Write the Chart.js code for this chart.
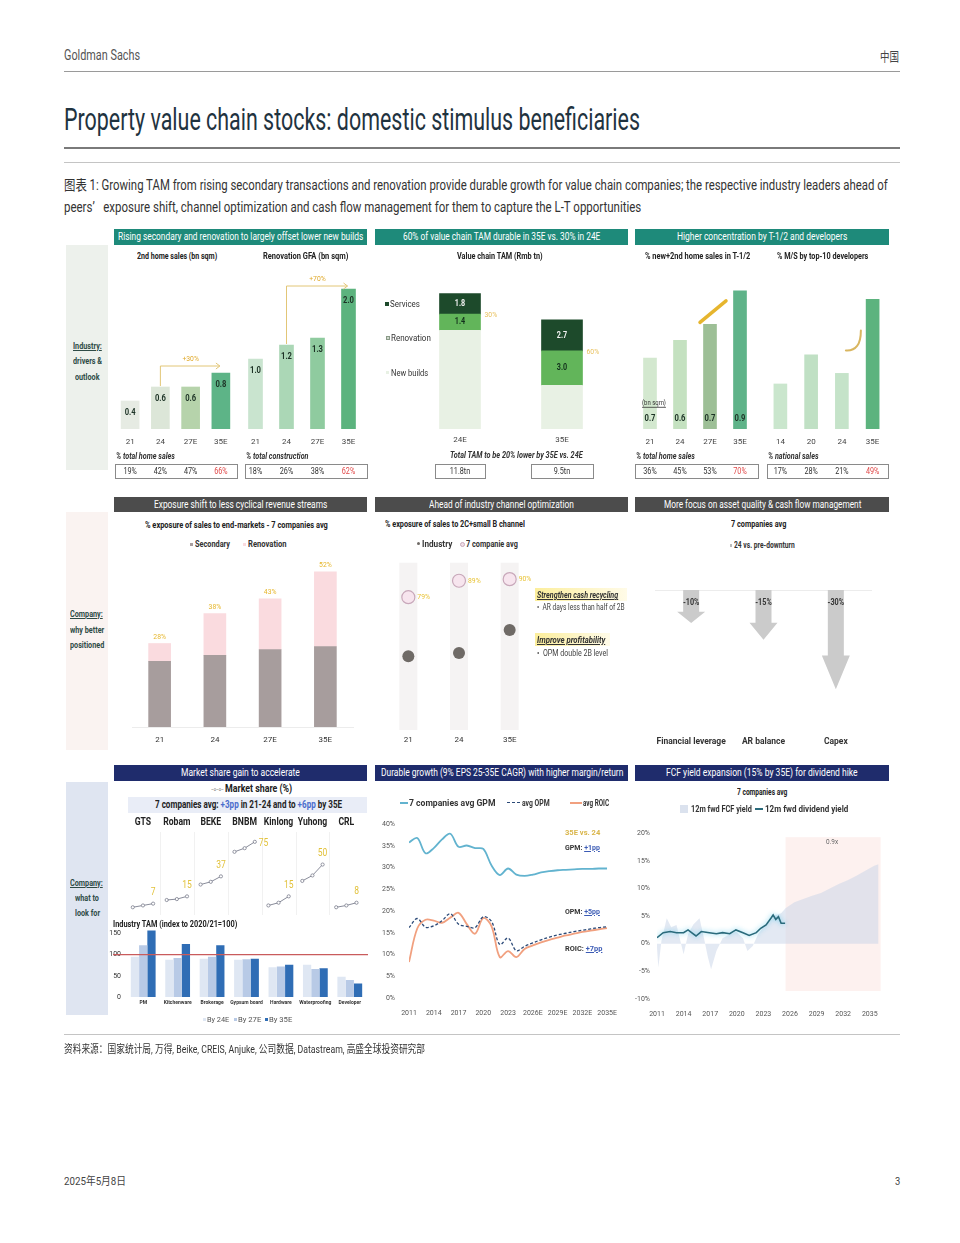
<!DOCTYPE html>
<html>
<head>
<meta charset="utf-8">
<script src="https://cdn.jsdelivr.net/npm/chart.js@4.4.1/dist/chart.umd.min.js"></script>
<style>
html, body { margin: 0; padding: 0; background: #fff; }
#page { position: relative; width: 960px; height: 1243px; overflow: hidden; background: #fff; font-family: Roboto, 'Noto Sans CJK SC', sans-serif; }
.t { position: absolute; white-space: nowrap; transform-origin: 0 50%; line-height: 1.15; }
.r { position: absolute; }
</style>
</head>
<body>
<div id="page"></div>
<script>
// ---- row 1: industry drivers ----
const years1 = ['21', '24', '27E', '35E'];
const homeSales2nd = [0.4, 0.6, 0.6, 0.8];
const homeSalesPct = ['19%', '42%', '47%', '66%'];
const renoGFA = [1.0, 1.2, 1.3, 2.0];
const renoPct = ['18%', '26%', '38%', '62%'];

const tamYears = ['24E', '35E'];
const tamNew = [8.6, 3.8];
const tamReno = [1.4, 3.0];
const tamServ = [1.8, 2.7];
const tamDurable = ['30%', '60%'];
const tamTotal = ['11.8tn', '9.5tn'];

const t12Pct = [36, 45, 53, 70];
const t12Area = [0.7, 0.6, 0.7, 0.9];
const devYears = ['14', '20', '24', '35E'];
const devPct = [17, 28, 21, 49];

// ---- row 2: company positioning ----
const expYears = ['21', '24', '27E', '35E'];
const expSecondary = [22, 24, 26, 27];
const expReno = [6, 14, 17, 25];
const expTotal = ['28%', '38%', '43%', '52%'];

const chYears = ['21', '24', '35E'];
const chIndustry = [43, 45, 59];
const chCompanies = [79, 89, 90];

const cfItems = ['Financial leverage', 'AR balance', 'Capex'];
const cfChange = [-10, -15, -30];

// ---- row 3: what to look for ----
const msNames = ['GTS', 'Robam', 'BEKE', 'BNBM', 'Kinlong', 'Yuhong', 'CRL'];
const msShare = [[3, 5, 7], [11, 12, 15], [28, 31, 37], [64, 68, 75], [5, 8, 15], [32, 38, 50], [3, 5, 8]];

const tamSeg = ['PM', 'Kitchenware', 'Brokerage', 'Gypsum board', 'Hardware', 'Waterproofing', 'Developer'];
const tam24E = [95, 88, 90, 88, 70, 76, 48];
const tam27E = [122, 92, 95, 89, 72, 66, 40];
const tam35E = [157, 125, 122, 90, 76, 68, 32];
const tamTicks = [0, 50, 100, 150];

const mYears = [2011, 2012, 2013, 2014, 2015, 2016, 2017, 2018, 2019, 2020, 2021, 2022, 2023, 2024, 2025, 2026, 2027, 2028, 2029, 2030, 2031, 2032, 2033, 2034, 2035];
const gpm = [35.8, 36.8, 33.3, 34.5, 36.5, 37.8, 34.8, 35.1, 34.5, 34.3, 30.5, 28.3, 29.8, 28.4, 28.1, 28.4, 28.9, 29.2, 29.4, 29.5, 29.6, 29.7, 29.7, 29.8, 29.8];
const opm = [16.2, 18.3, 16.3, 16.6, 17.8, 19.4, 17.0, 16.5, 16.2, 18.7, 17.6, 12.3, 13.8, 10.9, 11.9, 12.7, 13.4, 14.0, 14.5, 14.9, 15.3, 15.6, 15.9, 16.2, 16.4];
const roic = [8.3, 16.0, 18.0, 17.8, 17.3, 18.5, 19.6, 17.0, 14.8, 18.4, 16.5, 9.4, 10.8, 9.4, 11.3, 12.1, 12.8, 13.4, 13.9, 14.4, 14.8, 15.2, 15.5, 15.8, 16.1];
const marginXTicks = [2011, 2014, 2017, 2020, 2023, 2026, 2029, 2032, 2035];
const marginXLabels = ['2011', '2014', '2017', '2020', '2023', '2026E', '2029E', '2032E', '2035E'];
const marginYTicks = [0, 5, 10, 15, 20, 25, 30, 35, 40];

const fcfX = [2011.0, 2011.15, 2011.5, 2012.1, 2012.6, 2013.2, 2014.0, 2014.5, 2015.1, 2015.8, 2016.3, 2016.75, 2017.1, 2017.7, 2018.4, 2019.2, 2019.9, 2020.7, 2021.2, 2021.8, 2022.4, 2022.9, 2023.7, 2024.4, 2025.0, 2025.5, 2026.5, 2027.5, 2028.5, 2029.5, 2030.5, 2031.5, 2032.5, 2033.5, 2034.5, 2035.5, 2036];
const fcfY = [-0.7, -4.3, 0.5, 4.6, 3.0, 3.4, -1.9, 1.7, 3.5, 4.6, 1.0, -2.5, -4.6, -1.3, 1.0, 1.7, 2.2, 1.0, -1.3, -0.4, 1.7, 2.8, 4.0, 5.2, 5.5, 6.4, 7.5, 8.1, 8.7, 9.2, 10.0, 10.8, 11.5, 12.3, 13.2, 14.1, 14.4];
const divX = [2011.0, 2011.7, 2012.5, 2013.2, 2014.0, 2014.5, 2014.9, 2015.4, 2016.0, 2016.9, 2017.7, 2018.4, 2019.2, 2019.9, 2020.7, 2021.4, 2022.2, 2022.7, 2023.3, 2023.85, 2024.1, 2024.4, 2024.7, 2025.0, 2025.45];
const divY = [1.1, 2.0, 2.2, 2.0, 2.0, 2.5, 2.0, 1.4, 2.2, 2.0, 1.8, 2.0, 1.8, 2.5, 2.0, 1.5, 2.0, 2.8, 3.4, 4.6, 5.2, 4.4, 4.9, 3.7, 3.7];
const fcfXTicks = [2011, 2014, 2017, 2020, 2023, 2026, 2029, 2032, 2035];
const fcfYTicks = [-10, -5, 0, 5, 10, 15, 20];
const forecastStart = 2025.5;

const page = document.getElementById('page');
Chart.defaults.font.family = "Roboto, 'Noto Sans', sans-serif";

function T(html, x, y, size, w, css, align) {
    const d = document.createElement('div');
    d.className = 't';
    d.innerHTML = html;
    d.style.fontSize = size + 'px';
    if (css) Object.assign(d.style, css);
    page.appendChild(d);
    const nw = d.offsetWidth, nh = d.offsetHeight;
    const s = w ? w / nw : 0.85;
    const rw = nw * s;
    const left = align === 'c' ? x - rw / 2 : (align === 'r' ? x - rw : x);
    d.style.left = left + 'px';
    d.style.top = (y - nh / 2) + 'px';
    d.style.transform = 'scaleX(' + s + ')';
    return d;
}

function R(x, y, w, h, css) {
    const d = document.createElement('div');
    d.className = 'r';
    d.style.left = x + 'px'; d.style.top = y + 'px';
    d.style.width = w + 'px'; d.style.height = h + 'px';
    Object.assign(d.style, css || {});
    page.appendChild(d);
    return d;
}

function hdr(x0, x1, y0, y1, bg, text, tw) {
    R(x0, y0, x1 - x0, y1 - y0, { background: bg });
    T(text, (x0 + x1) / 2, (y0 + y1) / 2, 10, tw, { color: '#fff' }, 'c');
}

function mk(x, y, w, h, cfg) {
    const d = document.createElement('div');
    d.style.cssText = 'position:absolute;left:' + x + 'px;top:' + y + 'px;width:' + w + 'px;height:' + h + 'px;';
    const c = document.createElement('canvas');
    d.appendChild(c);
    page.appendChild(d);
    const o = cfg.options || {};
    o.responsive = true;
    o.maintainAspectRatio = false;
    o.animation = false;
    o.plugins = Object.assign({ legend: { display: false }, tooltip: { enabled: false } }, o.plugins || {});
    cfg.options = o;
    return new Chart(c, cfg);
}

let pid = 0;
function P(hooks) { return Object.assign({ id: 'p' + (pid++) }, hooks); }

// condensed canvas text
function txt(ctx, s, x, y, o) {
    o = o || {};
    const size = o.size || 8;
    ctx.save();
    ctx.font = (o.style || 'normal') + ' ' + (o.weight || 'bold') + ' ' + size + 'px Roboto';
    ctx.fillStyle = o.color || '#333';
    ctx.textAlign = o.align || 'center';
    ctx.textBaseline = 'middle';
    ctx.translate(x, y);
    ctx.scale(o.sx || 0.85, 1);
    ctx.fillText(s, 0, 0);
    if (o.underline) {
        const w = ctx.measureText(s).width;
        const x0 = o.align === 'left' ? 0 : (o.align === 'right' ? -w : -w / 2);
        ctx.fillRect(x0, size * 0.55, w, 0.8);
    }
    ctx.restore();
}

const noGrid = { display: false, drawTicks: false };

// category x axis; its box is tall enough to hold padding + label (labels are clipped to it)
function xCat(pad, size, color, weight) {
    return {
        grid: noGrid, border: { display: false },
        ticks: { padding: pad, font: { size: size, weight: weight || 'normal' }, color: color || '#444', autoSkip: false, maxRotation: 0 },
        afterFit: s => { s.height = Math.ceil(pad + size * 1.2 + 2); }
    };
}

function inLabels(ds, texts, pos, o) {
    return P({
        afterDatasetsDraw(chart) {
            chart.getDatasetMeta(ds).data.forEach((b, i) => {
                let y = b.y + 12;
                if (pos === 'mid') y = (b.y + b.base) / 2;
                if (pos === 'bottom') y = b.base - 10;
                if (pos === 'above') y = b.y - 7;
                txt(chart.ctx, texts[i], b.x, y, o);
            });
        }
    });
}

function tableRow(title, vals, l, r) {
    return P({
        afterDraw(chart) {
            const a = chart.chartArea, ctx = chart.ctx;
            const y0 = a.bottom + 35;
            txt(ctx, title, a.left + l + 1, a.bottom + 28, { align: 'left', style: 'italic', size: 9, color: '#333', sx: 0.8 });
            ctx.save();
            ctx.strokeStyle = '#8a8a8a'; ctx.lineWidth = 1;
            ctx.strokeRect(a.left + l + 0.5, y0 + 0.5, a.right - a.left - l + r, 14);
            ctx.restore();
            chart.getDatasetMeta(0).data.forEach((b, i) => {
                txt(ctx, vals[i], b.x, y0 + 7.5, { size: 8.5, weight: 'normal', color: i === vals.length - 1 ? '#e04848' : '#333' });
            });
        }
    });
}

function bracket(from, to, label, dy) {
    return P({
        afterDatasetsDraw(chart) {
            const m = chart.getDatasetMeta(0).data, a = m[from], b = m[to], ctx = chart.ctx;
            const ly = b.y - dy;
            ctx.save();
            ctx.strokeStyle = '#e2c677'; ctx.lineWidth = 1;
            ctx.beginPath();
            ctx.moveTo(a.x, a.y - 1); ctx.lineTo(a.x, ly); ctx.lineTo(b.x - 1, ly);
            ctx.moveTo(b.x - 5, ly - 3); ctx.lineTo(b.x - 1, ly); ctx.lineTo(b.x - 5, ly + 3);
            ctx.stroke();
            ctx.restore();
            txt(ctx, label, (a.x + b.x) / 2, ly - 7, { size: 8, weight: 'normal', color: '#e0aa2c' });
        }
    });
}

// ---------- backgrounds ----------
R(64, 71, 836, 1, { background: '#9a9a9a' });
R(64, 147, 836, 2, { background: '#7a7a7a' });
R(64, 162, 836, 1, { background: '#c4c4c4' });
R(64, 1034, 836, 1, { background: '#c4c4c4' });

R(66, 245, 42, 225, { background: '#edf1ec' });
R(66, 512, 42, 238, { background: '#faf3f1' });
R(66, 782, 42, 233, { background: '#dfe5f1' });

hdr(114, 367, 229, 245, '#1e8a7a', 'Rising secondary and renovation to largely offset lower new builds', 245);
hdr(375, 628, 229, 245, '#1e8a7a', '60% of value chain TAM durable in 35E vs. 30% in 24E', 197);
hdr(635, 889, 229, 245, '#1e8a7a', 'Higher concentration by T-1/2 and developers', 170);
hdr(114, 367, 497, 512, '#4c4c4c', 'Exposure shift to less cyclical revenue streams', 173);
hdr(375, 628, 497, 512, '#4c4c4c', 'Ahead of industry channel optimization', 145);
hdr(635, 889, 497, 512, '#4c4c4c', 'More focus on asset quality &amp; cash flow management', 197);
hdr(114, 367, 765, 781, '#1f2c6c', 'Market share gain to accelerate', 119);
hdr(375, 628, 765, 781, '#1f2c6c', 'Durable growth (9% EPS 25-35E CAGR) with higher margin/return', 242);
hdr(635, 889, 765, 781, '#1f2c6c', 'FCF yield expansion (15% by 35E) for dividend hike', 192);

R(128, 797, 239, 16, { background: '#e9edf7' });
R(535, 588, 92, 13, { background: 'linear-gradient(90deg,#fcee9c,#fffbe8)' });
R(535, 633, 75, 13, { background: 'linear-gradient(90deg,#fcee9c,#fffbe8)' });

// ---------- row 1 charts ----------
mk(114, 262, 127, 222, {
    type: 'bar',
    data: { labels: years1, datasets: [{ data: homeSales2nd, backgroundColor: ['#e6ebe3', '#dce6d8', '#b6d3ab', '#5db487'], barThickness: 18 }] },
    options: {
        layout: { padding: { left: 1, right: 5, top: 20, bottom: 35 } },
        scales: { x: xCat(8, 8, '#444'), y: { display: false, min: 0, max: 2.1 } }
    },
    plugins: [
        inLabels(0, homeSales2nd.map(v => v.toFixed(1)), 'top', { size: 9, color: '#1d3326' }),
        bracket(1, 3, '+30%', 7),
        tableRow('% total home sales', homeSalesPct, 0, 1)
    ]
});

mk(238, 262, 130, 222, {
    type: 'bar',
    data: { labels: years1, datasets: [{ data: renoGFA, backgroundColor: ['#c9e4cf', '#abd7b6', '#8fcb9f', '#5cb37e'], barThickness: 14 }] },
    options: {
        layout: { padding: { left: 2, right: 4, top: 20, bottom: 35 } },
        scales: { x: xCat(8, 8, '#444'), y: { display: false, min: 0, max: 2.1 } }
    },
    plugins: [
        inLabels(0, renoGFA.map(v => v.toFixed(1)), 'top', { size: 9, color: '#1d3326' }),
        bracket(1, 3, '+70%', 3),
        tableRow('% total construction', renoPct, 5, 3)
    ]
});

mk(375, 262, 253, 222, {
    type: 'bar',
    data: {
        labels: tamYears, datasets: [
            { label: 'New builds', data: tamNew, backgroundColor: '#e8f1e4', barThickness: 41 },
            { label: 'Renovation', data: tamReno, backgroundColor: '#62b55a', barThickness: 41 },
            { label: 'Services', data: tamServ, backgroundColor: '#1d4a2b', barThickness: 41 }
        ]
    },
    options: {
        layout: { padding: { left: 34, right: 15, top: 20, bottom: 37 } },
        scales: { x: Object.assign(xCat(6, 8, '#444'), { stacked: true }), y: { stacked: true, display: false, min: 0, max: 12.8 } }
    },
    plugins: [
        inLabels(1, tamReno.map(v => v.toFixed(1)), 'mid', { size: 8.5, color: '#12301c' }),
        inLabels(2, tamServ.map(v => v.toFixed(1)), 'mid', { size: 8.5, color: '#f2f2f2' }),
        P({
            afterDatasetsDraw(chart) {
                const ctx = chart.ctx, a = chart.chartArea;
                chart.getDatasetMeta(1).data.forEach((b, i) => {
                    txt(ctx, tamDurable[i], b.x + b.width / 2 + 4, b.y + 1, { align: 'left', size: 8, weight: 'normal', color: '#e8c15e' });
                });
                const widths = [50, 62];
                chart.getDatasetMeta(0).data.forEach((b, i) => {
                    const y0 = a.bottom + 35;
                    ctx.save(); ctx.strokeStyle = '#8a8a8a'; ctx.lineWidth = 1;
                    ctx.strokeRect(Math.round(b.x - widths[i] / 2) + 0.5, y0 + 0.5, widths[i], 14);
                    ctx.restore();
                    txt(ctx, tamTotal[i], b.x, y0 + 7.5, { size: 8.5, weight: 'normal' });
                });
            }
        })
    ]
});

mk(632, 262, 128, 222, {
    type: 'bar',
    data: { labels: years1, datasets: [{ data: t12Pct, backgroundColor: ['#d3e8cf', '#c4e1c0', '#9dbf96', '#5fb389'], barThickness: 13 }] },
    options: {
        layout: { padding: { left: 3, right: 5, top: 20, bottom: 35 } },
        scales: { x: xCat(8, 8, '#444'), y: { display: false, min: 0, max: 74.5 } }
    },
    plugins: [
        inLabels(0, t12Area.map(v => v.toFixed(1)), 'bottom', { size: 9, color: '#1d3326' }),
        P({
            afterDatasetsDraw(chart) {
                const m = chart.getDatasetMeta(0).data, ctx = chart.ctx;
                txt(ctx, '(bn sqm)', m[0].x + 4, m[0].base - 26, { size: 7, weight: 'normal', color: '#333', underline: true });
                ctx.save();
                ctx.strokeStyle = '#e6b52e'; ctx.lineWidth = 3.5; ctx.lineCap = 'round';
                ctx.beginPath();
                ctx.moveTo(m[2].x - 10, m[2].y - 2);
                ctx.lineTo(m[3].x - 14, m[3].y + 10);
                ctx.stroke();
                ctx.restore();
            }
        }),
        tableRow('% total home sales', t12Pct.map(v => v + '%'), 0, 3)
    ]
});

mk(760, 262, 130, 222, {
    type: 'bar',
    data: { labels: devYears, datasets: [{ data: devPct, backgroundColor: ['#cae6cd', '#c0e0c4', '#c5e3c9', '#5cb37e'], barThickness: 13 }] },
    options: {
        layout: { padding: { left: 5, right: 2, top: 20, bottom: 35 } },
        scales: { x: xCat(8, 8, '#444'), y: { display: false, min: 0, max: 55.5 } }
    },
    plugins: [
        P({
            afterDatasetsDraw(chart) {
                const b = chart.getDatasetMeta(0).data[2], ctx = chart.ctx;
                ctx.save();
                ctx.strokeStyle = '#d9b660'; ctx.lineWidth = 2; ctx.lineCap = 'round';
                ctx.beginPath();
                ctx.moveTo(b.x + 19, b.y - 43);
                ctx.quadraticCurveTo(b.x + 19, b.y - 22, b.x + 4, b.y - 23);
                ctx.stroke();
                ctx.restore();
            }
        }),
        tableRow('% national sales', devPct.map(v => v + '%'), 2, 0)
    ]
});

// ---------- row 2 charts ----------
mk(114, 555, 254, 195, {
    type: 'bar',
    data: {
        labels: expYears, datasets: [
            { label: 'Secondary', data: expSecondary, backgroundColor: '#a79d9d', barThickness: 22 },
            { label: 'Renovation', data: expReno, backgroundColor: '#fadbdf', barThickness: 22 }
        ]
    },
    options: {
        layout: { padding: { left: 18, right: 15, top: 5, bottom: 3 } },
        scales: {
            x: Object.assign(xCat(8, 8, '#333'), { stacked: true, border: { display: true, color: '#ececec' } }),
            y: { stacked: true, display: false, min: 0, max: 56 }
        }
    },
    plugins: [inLabels(1, expTotal, 'above', { size: 8, weight: 'normal', color: '#e6b62a' })]
});

mk(375, 555, 253, 195, {
    type: 'line',
    data: {
        labels: chYears, datasets: [
            { label: 'Industry', data: chIndustry, showLine: false, pointRadius: 6, pointBackgroundColor: '#6f6a66', pointBorderWidth: 0 },
            { label: '7 companie avg', data: chCompanies, showLine: false, pointRadius: 6.5, pointBackgroundColor: '#f7e5ee', pointBorderColor: '#c8a8ba', pointBorderWidth: 1.2 }
        ]
    },
    options: {
        layout: { padding: { left: 8, right: 93, top: 3, bottom: 3 } },
        scales: { x: Object.assign(xCat(8, 8, '#333'), { offset: true }), y: { display: false, min: 0, max: 100 } }
    },
    plugins: [P({
        beforeDatasetsDraw(chart) {
            const a = chart.chartArea, sx = chart.scales.x, ctx = chart.ctx;
            ctx.save(); ctx.fillStyle = '#f5f3f3';
            chYears.forEach((_, i) => { const x = sx.getPixelForValue(i); ctx.fillRect(x - 9, a.top, 18, a.bottom - a.top + 3); });
            ctx.restore();
        },
        afterDatasetsDraw(chart) {
            chart.getDatasetMeta(1).data.forEach((p, i) => {
                txt(chart.ctx, chCompanies[i] + '%', p.x + 9, p.y, { align: 'left', size: 8, weight: 'normal', color: '#e8c233' });
            });
        }
    })]
});

mk(635, 570, 254, 180, {
    type: 'bar',
    data: { labels: cfItems, datasets: [{ data: cfChange, backgroundColor: 'rgba(0,0,0,0)', barThickness: 28 }] },
    options: {
        layout: { padding: { left: 20, right: 17, top: 20, bottom: 0 } },
        scales: { x: xCat(8, 8.5, '#333', 'bold'), y: { display: false, min: -42, max: 0 } }
    },
    plugins: [P({
        afterDatasetsDraw(chart) {
            const ctx = chart.ctx, a = chart.chartArea, y0 = chart.scales.y.getPixelForValue(0);
            ctx.save();
            ctx.strokeStyle = '#ececec'; ctx.lineWidth = 1;
            ctx.beginPath(); ctx.moveTo(a.left, y0 + 0.5); ctx.lineTo(a.right, y0 + 0.5); ctx.stroke();
            ctx.fillStyle = '#cbcbcb';
            chart.getDatasetMeta(0).data.forEach(b => {
                const top = b.base, tip = b.y, head = (tip - top) * 0.34;
                ctx.beginPath();
                ctx.moveTo(b.x - 8, top); ctx.lineTo(b.x - 8, tip - head); ctx.lineTo(b.x - 14, tip - head);
                ctx.lineTo(b.x, tip); ctx.lineTo(b.x + 14, tip - head); ctx.lineTo(b.x + 8, tip - head);
                ctx.lineTo(b.x + 8, top); ctx.closePath(); ctx.fill();
            });
            ctx.restore();
            chart.getDatasetMeta(0).data.forEach((b, i) => txt(ctx, cfChange[i] + '%', b.x, b.base + 13, { size: 8.5 }));
        }
    })]
});

// ---------- row 3 charts ----------
mk(114, 815, 254, 105, {
    type: 'scatter',
    data: {
        datasets: msShare.map((arr, i) => ({
            label: msNames[i],
            data: arr.map((v, j) => ({ x: i + (j - 1) * 0.3, y: v })),
            showLine: true, borderColor: '#6b6f80', borderWidth: 0.8,
            pointRadius: 1.6, pointBackgroundColor: '#fff', pointBorderColor: '#6b6f80', pointBorderWidth: 0.7
        }))
    },
    options: {
        layout: { padding: { left: 12, right: 0, top: 15, bottom: 5 } },
        scales: { x: { display: false, min: -0.5, max: 6.5 }, y: { display: false, min: -5.5, max: 88 } }
    },
    plugins: [P({
        beforeDatasetsDraw(chart) {
            const a = chart.chartArea, sx = chart.scales.x, ctx = chart.ctx;
            ctx.save(); ctx.strokeStyle = '#f1f1f1'; ctx.lineWidth = 1;
            for (let i = 0; i < msNames.length - 1; i++) {
                const x = Math.round(sx.getPixelForValue(i + 0.5)) + 0.5;
                ctx.beginPath(); ctx.moveTo(x, a.top + 2); ctx.lineTo(x, a.bottom); ctx.stroke();
            }
            ctx.restore();
            msNames.forEach((n, i) => txt(ctx, n, sx.getPixelForValue(i), a.top - 8, { size: 10.5, color: '#222', sx: 0.82 }));
        },
        afterDatasetsDraw(chart) {
            const a = chart.chartArea;
            msShare.forEach((arr, i) => {
                const p = chart.getDatasetMeta(i).data[arr.length - 1];
                const s = String(arr[arr.length - 1]);
                // labels sit above the last point, or to its right when too close to the names row
                if (p.y - 11 < a.top + 10) txt(chart.ctx, s, p.x + 4, p.y + 2, { align: 'left', size: 10, weight: 'normal', color: '#e2c23c' });
                else txt(chart.ctx, s, p.x, p.y - 11, { size: 10, weight: 'normal', color: '#e2c23c' });
            });
        }
    })]
});

mk(108, 920, 260, 105, {
    type: 'bar',
    data: {
        labels: tamSeg, datasets: [
            { label: 'By 24E', data: tam24E, backgroundColor: '#dfe7f3', categoryPercentage: 0.72, barPercentage: 1 },
            { label: 'By 27E', data: tam27E, backgroundColor: '#b8cae6', categoryPercentage: 0.72, barPercentage: 1 },
            { label: 'By 35E', data: tam35E, backgroundColor: '#2f6db5', categoryPercentage: 0.72, barPercentage: 1 }
        ]
    },
    options: {
        layout: { padding: { left: 0, right: 1, top: 9, bottom: 17 } },
        scales: {
            x: xCat(3, 5, '#333', 'bold'),
            y: {
                min: 0, max: 160, grid: noGrid, border: { display: false },
                afterBuildTicks: s => { s.ticks = tamTicks.map(v => ({ value: v })); },
                ticks: { padding: 5, font: { size: 7 }, color: '#333' },
                afterFit: s => { s.width = 18; }
            }
        }
    },
    plugins: [P({
        afterDatasetsDraw(chart) {
            const a = chart.chartArea, y = chart.scales.y.getPixelForValue(100), ctx = chart.ctx;
            ctx.save(); ctx.strokeStyle = '#c95b5c'; ctx.lineWidth = 1.2;
            ctx.beginPath(); ctx.moveTo(a.left - 13, y); ctx.lineTo(a.right + 2, y); ctx.stroke();
            ctx.restore();
        }
    })]
});

const pts = (xs, ys) => xs.map((x, i) => ({ x: x, y: ys[i] }));

mk(375, 806, 253, 222, {
    type: 'line',
    data: {
        datasets: [
            { label: '7 companies avg GPM', data: pts(mYears, gpm), borderColor: '#62b3cf', borderWidth: 1.8, pointRadius: 0, tension: 0.35 },
            { label: 'avg OPM', data: pts(mYears, opm), borderColor: '#2c4a78', borderWidth: 1.3, borderDash: [3, 2], pointRadius: 0, tension: 0.35 },
            { label: 'avg ROIC', data: pts(mYears, roic), borderColor: '#f1a07f', borderWidth: 1.8, pointRadius: 0, tension: 0.35 }
        ]
    },
    options: {
        layout: { padding: { left: 4, right: 10, top: 7, bottom: 8 } },
        scales: {
            x: {
                type: 'linear', min: 2011, max: 2035, grid: noGrid, border: { display: false },
                afterBuildTicks: s => { s.ticks = marginXTicks.map(v => ({ value: v })); },
                ticks: { padding: 11, font: { size: 7 }, color: '#555', callback: (v, i) => marginXLabels[i], autoSkip: false, maxRotation: 0 },
                afterFit: s => { s.height = 22; }
            },
            y: {
                min: 0, max: 40, grid: noGrid, border: { display: false },
                afterBuildTicks: s => { s.ticks = marginYTicks.map(v => ({ value: v })); },
                ticks: { padding: 14, font: { size: 7 }, color: '#555', callback: v => v + '%' },
                afterFit: s => { s.width = 30; }
            }
        }
    }
});

mk(630, 822, 259, 206, {
    type: 'line',
    data: {
        datasets: [
            { label: '12m fwd dividend yield', data: pts(divX, divY), borderColor: '#2a6b7c', borderWidth: 1.6, pointRadius: 0, tension: 0 },
            { label: '12m fwd FCF yield', data: pts(fcfX, fcfY), fill: 'origin', backgroundColor: 'rgba(200,212,232,0.5)', borderWidth: 0, pointRadius: 0, tension: 0 }
        ]
    },
    options: {
        layout: { padding: { left: 1, right: 9, top: 9, bottom: 7 } },
        scales: {
            x: {
                type: 'linear', min: 2011, max: 2036, grid: noGrid, border: { display: false },
                afterBuildTicks: s => { s.ticks = fcfXTicks.map(v => ({ value: v })); },
                ticks: { padding: 11, font: { size: 7 }, color: '#555', autoSkip: false, maxRotation: 0, callback: v => String(v) },
                afterFit: s => { s.height = 22; }
            },
            y: {
                min: -10, max: 20, grid: noGrid, border: { display: false },
                afterBuildTicks: s => { s.ticks = fcfYTicks.map(v => ({ value: v })); },
                ticks: { padding: 7, font: { size: 7 }, color: '#555', callback: v => v + '%' },
                afterFit: s => { s.width = 26; }
            }
        }
    },
    plugins: [P({
        beforeDatasetsDraw(chart) {
            const a = chart.chartArea, x0 = chart.scales.x.getPixelForValue(forecastStart), ctx = chart.ctx;
            ctx.save(); ctx.fillStyle = '#fdf1ef';
            ctx.fillRect(x0, a.top + 4, a.right - x0 + 2, a.bottom - a.top - 12);
            ctx.restore();
        },
        beforeDatasetDraw(chart, args) {
            if (args.index === 0) {
                chart.ctx.save();
                chart.ctx.shadowColor = 'rgba(90,200,235,0.9)';
                chart.ctx.shadowBlur = 5;
            }
        },
        afterDatasetDraw(chart, args) {
            if (args.index === 0) chart.ctx.restore();
        }
    })]
});

// ---------- text ----------
T('Goldman Sachs', 64, 55, 15, 76, { color: '#555' });
T('中国', 880, 57, 13, 19, { color: '#444' });
T('Property value chain stocks: domestic stimulus beneficiaries', 64, 120, 31, 576, { color: '#1f3340' });
T('图表 1: Growing TAM from rising secondary transactions and renovation provide durable growth for value chain companies; the respective industry leaders ahead of', 64, 185, 14, 824, { color: '#333' });
T('peers’&nbsp;&nbsp;&nbsp;exposure shift, channel optimization and cash flow management for them to capture the L-T opportunities', 64, 207, 14, 577, { color: '#333' });

const lab = { fontWeight: 'bold', color: '#2e4b46' };
T('<u>Industry:</u>', 87, 347, 8.5, 0, lab, 'c');
T('drivers &amp;', 87, 362, 8.5, 0, lab, 'c');
T('outlook', 87, 378, 8.5, 0, lab, 'c');
T('<u>Company:</u>', 87, 615, 8.5, 0, lab, 'c');
T('why better', 87, 631, 8.5, 0, lab, 'c');
T('positioned', 87, 646, 8.5, 0, lab, 'c');
T('<u>Company:</u>', 87, 884, 8.5, 0, lab, 'c');
T('what to', 87, 899, 8.5, 0, lab, 'c');
T('look for', 87, 914, 8.5, 0, lab, 'c');

const sub = { fontWeight: 'bold', color: '#222' };
T('2nd home sales (bn sqm)', 137, 256, 9, 80, sub);
T('Renovation GFA (bn sqm)', 263, 256, 9, 85, sub);
T('Value chain TAM (Rmb tn)', 457, 256, 9, 86, sub);
T('% new+2nd home sales in T-1/2', 645, 256, 9, 105, sub);
T('% M/S by top-10 developers', 777, 256, 9, 91, sub);

R(385, 302, 4, 4, { background: '#1d4a2b' });
T('Services', 390, 304, 9, 30, { color: '#333' });
R(386, 336, 4, 4, { background: '#cfd8cc', border: '0.5px solid #8a9a88', boxSizing: 'border-box' });
T('Renovation', 391, 338, 9, 40, { color: '#333' });
R(386, 371, 3, 3, { background: '#e8f1e4' });
T('New builds', 391, 373, 9, 37, { color: '#333' });
T('Total TAM to be 20% lower by 35E vs. 24E', 516, 455, 9, 133, { fontWeight: 'bold', fontStyle: 'italic', color: '#333' }, 'c');

T('% exposure of sales to end-markets - 7 companies avg', 145, 525, 9, 183, sub);
R(190, 543, 3, 3, { background: '#a79d9d' });
T('Secondary', 195, 544, 9, 35, { fontWeight: 'bold', color: '#333' });
R(243, 543, 3, 3, { background: '#fadbdf' });
T('Renovation', 248, 544, 9, 39, { fontWeight: 'bold', color: '#333' });

T('% exposure of sales to 2C+small B channel', 385, 524, 9, 140, sub);
R(417, 542, 3, 3, { background: '#6f6a66', borderRadius: '50%' });
T('Industry', 422, 544, 9, 30, { fontWeight: 'bold', color: '#333' });
R(460, 542, 3, 3, { background: '#f0dfe8', border: '0.5px solid #c8a8ba', borderRadius: '50%' });
T('7 companie avg', 466, 544, 9, 52, { fontWeight: 'bold', color: '#333' });
T('<u>Strengthen cash recycling</u>', 537, 595, 9, 81, { fontWeight: 'bold', fontStyle: 'italic', color: '#333' });
T('•&nbsp; AR days less than half of 2B', 537, 608, 8.5, 88, { color: '#444' });
T('<u>Improve profitability</u>', 537, 640, 9, 68, { fontWeight: 'bold', fontStyle: 'italic', color: '#333' });
T('•&nbsp; OPM double 2B level', 537, 654, 8.5, 71, { color: '#444' });

T('7 companies avg', 758, 524, 9, 55, sub, 'c');
R(730, 544, 2, 3, { background: '#bbb' });
T('24 vs. pre-downturn', 734, 545, 9, 61, { fontWeight: 'bold', color: '#333' });

T('–o–o–', 211, 789, 6, 13, { color: '#666' });
T('Market share (%)', 225, 789, 10, 67, { fontWeight: 'bold', color: '#222' });
T('7 companies avg: <span style="color:#4a6ccc">+3pp</span> in 21-24 and to <span style="color:#4a6ccc">+6pp</span> by 35E', 248, 805, 11, 187, { fontWeight: 'bold', color: '#222' }, 'c');
T('Industry TAM (index to 2020/21=100)', 113, 924, 9, 124, { fontWeight: 'bold', color: '#222' });
R(203, 1018, 3, 3, { background: '#dfe7f3' });
T('By 24E', 207, 1019, 8, 22, { color: '#555' });
R(234, 1018, 3, 3, { background: '#b8cae6' });
T('By 27E', 238, 1019, 8, 23, { color: '#555' });
R(265, 1018, 3, 3, { background: '#2f6db5' });
T('By 35E', 269, 1019, 8, 23, { color: '#555' });

R(400, 802, 8, 1.6, { background: '#62b3cf' });
T('7 companies avg GPM', 409, 803, 9, 86, { fontWeight: 'bold', color: '#333' });
R(507, 802, 13, 1.4, { background: 'repeating-linear-gradient(90deg,#2c4a78 0 3px,transparent 3px 5px)' });
T('avg OPM', 522, 803, 9, 28, { fontWeight: 'bold', color: '#333' });
R(570, 802, 12, 1.6, { background: '#f1a07f' });
T('avg ROIC', 583, 803, 9, 26, { fontWeight: 'bold', color: '#333' });
T('35E vs. 24', 565, 832, 8, 35, { color: '#d9b54a', fontWeight: 'bold' });
T('GPM: <u style="color:#3b5bb5">+1pp</u>', 565, 847, 8, 35, { fontWeight: 'bold', color: '#333' });
T('OPM: <u style="color:#3b5bb5">+5pp</u>', 565, 911, 8, 35, { fontWeight: 'bold', color: '#333' });
T('ROIC: <u style="color:#3b5bb5">+7pp</u>', 565, 948, 8, 37, { fontWeight: 'bold', color: '#333' });

T('7 companies avg', 762, 792, 9, 50, sub, 'c');
R(680, 805, 8, 8, { background: '#dbe2ee' });
T('12m fwd FCF yield', 691, 809, 9, 61, { fontWeight: 'bold', color: '#333' });
R(755, 808, 8, 1.6, { background: '#2a6b7c' });
T('12m fwd dividend yield', 765, 809, 9, 83, { fontWeight: 'bold', color: '#333' });
T('0.9x', 826, 842, 7, 12, { color: '#666' });

T('资料来源：国家统计局, 万得, Beike, CREIS, Anjuke, 公司数据, Datastream, 高盛全球投资研究部', 64, 1050, 11, 361, { color: '#333' });
T('2025年5月8日', 64, 1182, 11, 62, { color: '#444' });
T('3', 895, 1182, 11, 0, { color: '#444' });
</script>
</body>
</html>
